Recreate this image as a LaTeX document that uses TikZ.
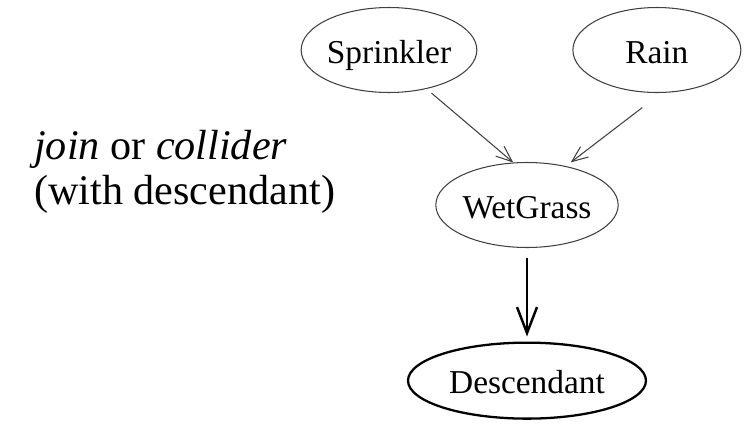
\documentclass[tikz,border=0pt]{standalone}
\usepackage{fontspec}
\setmainfont{Liberation Serif}
\usetikzlibrary{
  arrows.meta,
  positioning,
  shapes.geometric
}
\definecolor{edgegray}{HTML}{404040}

\begin{document}
\begin{tikzpicture}[
      x=0.02cm, y=-0.02cm,
      var/.style={
        ellipse, inner sep=0pt,
        minimum width=3.36cm, minimum height=1.7cm,
        text height=15pt, text depth=0pt,
        draw=edgegray, line width=0.6pt,
        font=\fontsize{19}{22}\selectfont
      },
      arrow/.style={-{Straight Barb[length=3.2mm, width=2.6mm]}, line width=0.6pt, edgegray},
      bigarrow/.style={-{Straight Barb[length=5.2mm, width=4mm]}, line width=1.4pt, black},
      note/.style={font=\fontsize{24}{25.5}\selectfont, align=left, anchor=west}
    ]
      \useasboundingbox (0,0) rectangle (744,423);

      % Parents and the collider
      \node[var] (spr) at (389,50) {Sprinkler};
      \node[var, right=1.9cm of spr] (rain) {Rain};
      \node[var] (wet) at (527,205) {WetGrass};
      \node[var, below=1.87cm of wet, minimum width=4.76cm, minimum height=1.52cm,
            draw=black, line width=1.3pt] (desc) {Descendant};

      % Edges
      \draw[arrow, shorten <=0.13cm] (spr.-46.4) -- (wet.108.4);
      \draw[arrow, shorten <=0.48cm, shorten >=0.12cm] (rain.-84) -- (wet.45.7);
      \draw[bigarrow, shorten <=0.2cm, shorten >=0.1cm] (wet.south) -- (desc.north);

      % Caption
      \node[note] (cap) at (28,172) {\textit{join} or \textit{collider}\\(with descendant)};
\end{tikzpicture}
\end{document}
